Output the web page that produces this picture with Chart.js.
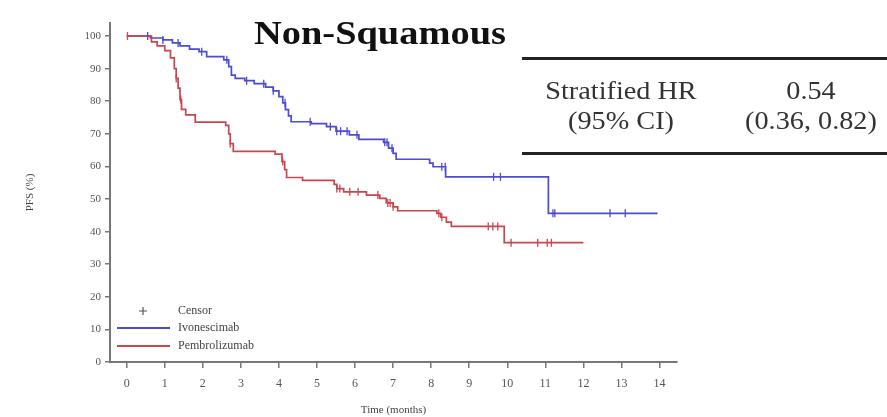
<!DOCTYPE html>
<html>
<head>
<meta charset="utf-8">
<script src="https://cdn.jsdelivr.net/npm/chart.js@4.4.1/dist/chart.umd.min.js"></script>
<style>
body { margin: 0; background: #fff; }
#wrap { position: relative; width: 887px; height: 417px; }
.t { position: absolute; font-family: "Liberation Serif", "Times New Roman", serif; white-space: nowrap; color: #333; }
#title { left: 380px; top: 16px; font-size: 34px; line-height: 34px; font-weight: bold; color: #111; transform: translateX(-50%) scaleX(1.13); }
.cell { font-size: 25px; line-height: 30px; text-align: center; transform: translateX(-50%) scaleX(1.13); }
.rule { position: absolute; left: 522px; width: 365px; height: 3px; background: #222; }
</style>
</head>
<body>
<div id="wrap">
<canvas id="myChart" width="887" height="417"></canvas>
<div id="title" class="t">Non-Squamous</div>
<div class="rule" style="top:57px"></div>
<div class="t cell" style="left:621px;top:76px">Stratified HR<br>(95% CI)</div>
<div class="t cell" style="left:811px;top:76px">0.54<br>(0.36, 0.82)</div>
<div class="rule" style="top:152px"></div>
</div>
<script>
// Kaplan-Meier step points (months, PFS %)
var ivoTime = [0, 0.62, 0.95, 1.2, 1.4, 1.65, 1.9, 2.1, 2.55, 2.68, 2.75, 2.85, 3.1, 3.35, 3.65, 3.85, 4.0, 4.1, 4.17, 4.25, 4.32, 4.85, 5.25, 5.5, 5.85, 6.1, 6.75, 6.88, 7.0, 7.08, 7.96, 8.05, 8.38, 11.08, 13.95];
var ivoPfs  = [100, 99.4, 98.8, 97.9, 97.0, 96.0, 95.2, 93.7, 92.7, 90.6, 88.0, 87.0, 86.3, 85.4, 84.3, 83.2, 81.4, 79.5, 77.4, 75.5, 73.7, 73.1, 72.2, 70.8, 69.7, 68.3, 67.4, 65.6, 64.0, 62.2, 61.0, 59.9, 56.8, 45.6, 45.6];
var pemTime = [0, 0.65, 0.8, 1.0, 1.15, 1.25, 1.3, 1.35, 1.4, 1.44, 1.55, 1.8, 2.6, 2.68, 2.72, 2.8, 3.9, 4.08, 4.15, 4.2, 4.62, 5.45, 5.52, 5.7, 6.3, 6.65, 6.82, 7.0, 7.12, 8.15, 8.25, 8.4, 8.53, 9.92, 12.0];
var pemPfs  = [100, 98.2, 97.0, 95.5, 93.3, 90.0, 87.0, 84.0, 80.5, 77.5, 75.8, 73.6, 72.6, 70.0, 67.0, 64.6, 63.8, 61.5, 59.0, 56.6, 55.7, 54.5, 53.2, 52.2, 51.2, 50.2, 48.8, 47.6, 46.4, 45.6, 44.4, 42.9, 41.6, 36.6, 36.6];
// censor times (months)
var ivoCensor = [0.55, 0.95, 1.35, 1.97, 2.63, 3.15, 3.6, 3.85, 4.16, 4.82, 5.35, 5.52, 5.62, 5.79, 6.05, 6.78, 6.84, 6.97, 8.28, 8.37, 9.64, 9.82, 11.2, 11.25, 12.7, 13.1];
var pemCensor = [0.02, 1.3, 1.42, 2.72, 4.1, 5.52, 5.6, 5.86, 6.08, 6.6, 6.86, 6.92, 7.0, 8.2, 8.28, 9.5, 9.62, 9.75, 10.1, 10.8, 11.05, 11.16];
var xTicks = [0, 1, 2, 3, 4, 5, 6, 7, 8, 9, 10, 11, 12, 13, 14];
var yTicks = [0, 10, 20, 30, 40, 50, 60, 70, 80, 90, 100];

var blue = '#4b4bd6';
var red = '#c9464f';

function toPoints(t, s) {
    return t.map(function (v, i) { return { x: v, y: s[i] }; });
}
function survAt(t, s, x) {
    var y = s[0];
    for (var i = 0; i < t.length; i++) { if (t[i] <= x) y = s[i]; }
    return y;
}
function censorPoints(t, s, c) {
    return c.map(function (x) { return { x: x, y: survAt(t, s, x) }; });
}

var legendPlugin = {
    id: 'kmLegend',
    afterDraw: function (chart) {
        var ctx = chart.ctx;
        var ds = chart.data.datasets;
        ctx.save();
        ctx.font = '12px "Liberation Serif"';
        ctx.textBaseline = 'middle';
        ctx.fillStyle = '#444';
        ctx.strokeStyle = '#555';
        ctx.lineWidth = 1.2;
        ctx.beginPath();
        ctx.moveTo(139, 311); ctx.lineTo(147, 311);
        ctx.moveTo(143, 307); ctx.lineTo(143, 315);
        ctx.stroke();
        ctx.fillText('Censor', 178, 311);
        [[ds[0], 328], [ds[1], 346]].forEach(function (r) {
            ctx.strokeStyle = r[0].borderColor;
            ctx.lineWidth = 2;
            ctx.beginPath();
            ctx.moveTo(117, r[1]); ctx.lineTo(170, r[1]);
            ctx.stroke();
            ctx.fillText(r[0].label, 178, r[1]);
        });
        ctx.restore();
    }
};

var ctx = document.getElementById('myChart').getContext('2d');
var chart = new Chart(ctx, {
    type: 'line',
    data: {
        datasets: [{
            label: 'Ivonescimab',
            data: toPoints(ivoTime, ivoPfs),
            borderColor: blue,
            borderWidth: 1.7,
            stepped: 'before',
            pointRadius: 0,
            order: 3
        }, {
            label: 'Pembrolizumab',
            data: toPoints(pemTime, pemPfs),
            borderColor: red,
            borderWidth: 1.7,
            stepped: 'before',
            pointRadius: 0,
            order: 2
        }, {
            label: 'Ivonescimab censor',
            data: censorPoints(ivoTime, ivoPfs, ivoCensor),
            showLine: false,
            pointStyle: 'line',
            rotation: 90,
            pointRadius: 4,
            borderColor: blue,
            pointBorderWidth: 1.3,
            order: 1
        }, {
            label: 'Pembrolizumab censor',
            data: censorPoints(pemTime, pemPfs, pemCensor),
            showLine: false,
            pointStyle: 'line',
            rotation: 90,
            pointRadius: 4,
            borderColor: red,
            pointBorderWidth: 1.3,
            order: 0
        }]
    },
    options: {
        responsive: false,
        animation: false,
        layout: { padding: { left: 0, right: 210, top: 23, bottom: 0 } },
        plugins: { legend: { display: false }, tooltip: { enabled: false } },
        scales: {
            x: {
                type: 'linear',
                min: -0.44,
                max: 14.46,
                afterBuildTicks: function (s) { s.ticks = xTicks.map(function (v) { return { value: v }; }); },
                afterFit: function (s) { s.height = 55; },
                border: { color: '#777', width: 2 },
                grid: { drawOnChartArea: false, color: '#777', lineWidth: 1.5, tickLength: 6 },
                ticks: { color: '#555', font: { family: 'Liberation Serif', size: 12 }, padding: 9, maxRotation: 0 },
                title: { display: true, text: 'Time (months)', color: '#444', font: { family: 'Liberation Serif', size: 11 }, padding: { top: 0, bottom: 0 } }
            },
            y: {
                min: 0,
                max: 104,
                afterBuildTicks: function (s) { s.ticks = yTicks.map(function (v) { return { value: v }; }); },
                afterFit: function (s) { s.width = 110; },
                border: { color: '#777', width: 2 },
                grid: { drawOnChartArea: false, color: '#777', lineWidth: 1.5, tickLength: 5 },
                ticks: { color: '#555', font: { family: 'Liberation Serif', size: 11 }, padding: 4 },
                title: { display: true, text: 'PFS (%)', color: '#444', font: { family: 'Liberation Serif', size: 11 }, padding: { top: 24, bottom: 0 } }
            }
        }
    },
    plugins: [legendPlugin]
});
</script>
</body>
</html>
